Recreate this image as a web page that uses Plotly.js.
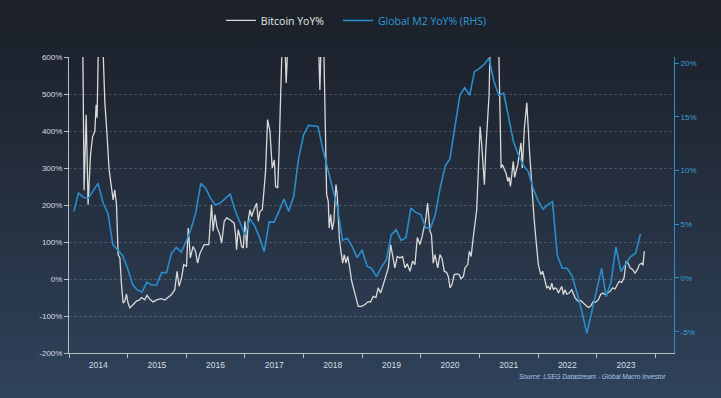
<!DOCTYPE html>
<html><head><meta charset="utf-8">
<script src="https://cdn.plot.ly/plotly-3.0.1.min.js"></script>
<style>
html,body{margin:0;padding:0;background:#1c212b;}
#chart{width:721px;height:398px;background:linear-gradient(to bottom,#1b2029 0%,#222a37 35%,#2b3b50 80%,#2f435b 100%);}
</style>
</head><body><div id="chart"></div>
<script>
// Bitcoin YoY% (time as decimal years)
const btcTime = [
2014.084,2014.160,2014.234,2014.259,2014.294,2014.328,2014.369,2014.403,2014.442,2014.464,
2014.481,2014.502,2014.527,2014.567,2014.613,2014.652,2014.686,2014.727,2014.754,2014.783,
2014.812,2014.840,2014.869,2014.898,2014.925,2014.954,2014.983,2015.010,2015.039,2015.096,
2015.154,2015.193,2015.239,2015.295,2015.334,2015.381,2015.437,2015.505,2015.580,2015.637,
2015.693,2015.751,2015.807,2015.846,2015.881,2015.922,2015.961,2016.007,2016.038,2016.072,
2016.119,2016.160,2016.195,2016.234,2016.307,2016.387,2016.433,2016.461,2016.490,2016.529,
2016.575,2016.604,2016.648,2016.689,2016.746,2016.819,2016.843,2016.860,2016.887,2016.916,
2016.945,2016.973,2017.002,2017.031,2017.058,2017.087,2017.116,2017.143,2017.201,2017.229,
2017.258,2017.297,2017.331,2017.355,2017.389,2017.428,2017.468,2017.502,2017.526,2017.560,
2017.582,2017.616,2017.659,2017.706,2017.735,2017.804,2017.940,2018.077,2018.196,2018.253,
2018.282,2018.311,2018.341,2018.396,2018.423,2018.440,2018.464,2018.491,2018.520,2018.555,
2018.577,2018.611,2018.640,2018.669,2018.696,2018.725,2018.754,2018.782,2018.823,2018.879,
2018.935,2018.993,2019.050,2019.106,2019.143,2019.191,2019.237,2019.276,2019.317,2019.362,
2019.408,2019.447,2019.488,2019.522,2019.561,2019.601,2019.647,2019.693,2019.732,2019.771,
2019.817,2019.863,2019.903,2019.945,2019.988,2020.027,2020.061,2020.085,2020.119,2020.159,
2020.184,2020.215,2020.244,2020.290,2020.329,2020.364,2020.403,2020.440,2020.471,2020.500,
2020.534,2020.573,2020.614,2020.654,2020.688,2020.727,2020.756,2020.802,2020.829,2020.858,
2020.898,2020.927,2020.956,2020.983,2021.012,2021.041,2021.063,2021.085,2021.109,2021.143,
2021.166,2021.188,2021.225,2021.285,2021.328,2021.353,2021.370,2021.392,2021.427,2021.456,
2021.485,2021.507,2021.529,2021.549,2021.580,2021.601,2021.626,2021.655,2021.677,2021.712,
2021.734,2021.768,2021.809,2021.836,2021.857,2021.874,2021.894,2021.933,2021.968,2022.007,
2022.048,2022.082,2022.121,2022.150,2022.177,2022.207,2022.236,2022.263,2022.292,2022.321,
2022.348,2022.377,2022.406,2022.433,2022.463,2022.491,2022.531,2022.577,2022.604,2022.633,
2022.689,2022.730,2022.775,2022.821,2022.860,2022.901,2022.945,2022.986,2023.031,2023.072,
2023.102,2023.145,2023.188,2023.230,2023.276,2023.316,2023.355,2023.389,2023.430,2023.469,
2023.503,2023.538,2023.572,2023.618,2023.657,2023.696,2023.730,2023.771,2023.794,2023.816
];
const btcValues = [
900,760,680,240,444,201,336,385,399,471,
436,700,850,700,480,390,295,246,214,241,
201,66,57,-15,-65,-60,-41,-65,-78,-69,
-59,-58,-50,-56,-44,-55,-62,-56,-53,-57,
-50,-42,-29,21,-20,3,39,34,138,57,
88,75,43,68,93,93,201,129,174,138,
120,97,156,165,160,151,120,79,133,115,
88,84,156,84,160,187,169,183,205,156,
183,187,246,295,431,399,300,322,250,246,
336,680,760,530,720,950,1400,1100,800,660,
511,700,680,228,210,138,174,133,156,255,
228,111,75,43,66,43,61,39,-6,-42,
-74,-74,-69,-61,-62,-47,-50,-24,-38,-15,
7,30,93,66,30,61,57,61,30,41,
21,48,39,112,93,115,147,160,205,129,
120,43,66,30,66,55,21,18,7,-24,
-15,12,14,12,1,7,30,39,75,61,
115,156,187,291,412,363,320,255,345,435,
498,660,850,820,650,453,300,309,295,285,
264,275,250,272,318,275,292,309,336,368,
300,408,476,372,345,300,246,165,102,39,
12,21,-6,-24,-20,-29,-11,-29,-24,-27,
-38,-29,-20,-42,-29,-41,-38,-29,-40,-51,
-61,-58,-65,-71,-77,-73,-61,-63,-56,-41,
-38,-42,-38,-34,-24,-27,-15,-6,-9,3,
48,43,30,25,16,25,39,43,37,75
];
// Global M2 YoY% (monthly, Feb 2014 - Oct 2023)
const m2Start = [2014, 2]; // year, month
const m2Values = [
6.2,7.9,7.5,7.4,8.1,8.8,7.0,6.0,3.1,2.6,
2.1,0.9,-0.6,-1.1,-1.3,-0.4,-0.65,-0.65,0.5,0.5,
2.3,2.85,2.4,3.4,4.6,6.1,8.8,8.35,7.4,6.8,
7.0,7.4,7.8,6.3,5.1,4.0,5.5,4.9,3.8,2.45,
5.2,5.2,6.2,7.35,6.2,7.6,11.1,13.3,14.2,14.15,
14.1,12.0,10.2,8.4,6.5,3.5,3.7,2.9,1.9,2.6,
1.1,0.9,0.12,1.0,1.7,4.0,4.5,3.5,3.75,6.5,
6.1,5.9,4.7,4.6,5.9,8.35,10.4,11.1,13.9,17.0,
17.7,17.0,19.2,19.5,19.9,20.45,18.3,17.0,17.2,14.9,
12.7,11.45,10.5,9.9,8.35,7.2,6.4,6.8,7.1,2.1,
0.9,0.9,0.2,-1.4,-3.1,-5.15,-3.1,-1.1,0.9,-1.74,
-0.35,2.9,0.6,1.3,2.0,2.3,4.1
];
// Axis tick labels
const leftTickVals = [-200,-100,0,100,200,300,400,500,600];
const leftTickText = ['-200%','-100%','0%','100%','200%','300%','400%','500%','600%'];
const rightTickVals = [-5,0,5,10,15,20];
const rightTickText = ['-5%','0%','5%','10%','15%','20%'];

function decYearToDate(t){
  const y = Math.floor(t);
  const s = Date.UTC(y,0,1), e = Date.UTC(y+1,0,1);
  return new Date(s + (t - y)*(e - s)).toISOString().slice(0,10);
}
function monthDate(start, i){
  const tot = start[0]*12 + (start[1]-1) + i;
  const y = Math.floor(tot/12), m = tot%12 + 1;
  return y + '-' + String(m).padStart(2,'0') + '-01';
}
const btcDates = btcTime.map(decYearToDate);
const m2Dates = m2Values.map((_, i) => monthDate(m2Start, i));

const axisGrey = '#b9bfc8';
const blue = '#2a8dcc';

const traces = [
  {x: btcDates, y: btcValues, type: 'scatter', mode: 'lines', name: 'Bitcoin YoY%',
   line: {color: '#d9d9d9', width: 1.3}, yaxis: 'y', legend: 'legend'},
  {x: m2Dates, y: m2Values, type: 'scatter', mode: 'lines',
   name: '<span style="color:#2f9ad8">Global M2 YoY% (RHS)</span>',
   line: {color: blue, width: 1.6}, yaxis: 'y2', legend: 'legend2'}
];

const legendFont = {family: 'Open Sans, sans-serif', size: 10.5, color: '#e8e8e8'};

const layout = {
  width: 721, height: 398,
  paper_bgcolor: 'rgba(0,0,0,0)', plot_bgcolor: 'rgba(0,0,0,0)',
  margin: {l: 69, r: 47, t: 57, b: 45},
  font: {family: 'Liberation Sans, Arial, sans-serif', size: 8, color: '#d3d7dd'},
  showlegend: true,
  legend: {orientation: 'h', x: 0.251, xanchor: 'left', xref: 'paper',
           y: 0.985, yref: 'container', yanchor: 'top',
           font: legendFont, bgcolor: 'rgba(0,0,0,0)'},
  legend2: {orientation: 'h', x: 0.4446, xanchor: 'left', xref: 'paper',
           y: 0.985, yref: 'container', yanchor: 'top',
           font: legendFont, bgcolor: 'rgba(0,0,0,0)'},
  xaxis: {type: 'date', range: ['2014-01-01', '2024-04-27'], dtick: 'M12', tick0: '2014-01-01',
          tickformat: '%Y', ticklabelmode: 'period', ticks: 'outside', ticklen: 4,
          tickcolor: axisGrey, showline: true, linecolor: axisGrey, linewidth: 1,
          showgrid: false, zeroline: false, tickfont: {size: 8.5, color: '#d8dce2'}},
  yaxis: {range: [-200, 600], tickmode: 'array', tickvals: leftTickVals, ticktext: leftTickText,
          ticks: 'outside', ticklen: 4,
          tickcolor: axisGrey, showline: true, linecolor: axisGrey, linewidth: 1,
          showgrid: true, gridcolor: 'rgba(200,206,216,0.22)', griddash: '3px,2px',
          zeroline: false, tickfont: {size: 8, color: '#d8dce2'}},
  yaxis2: {overlaying: 'y', side: 'right', range: [-6.98, 20.56],
           tickmode: 'array', tickvals: rightTickVals, ticktext: rightTickText,
           ticks: 'outside', ticklen: 4,
           tickcolor: blue, showline: true, linecolor: blue, linewidth: 1,
           showgrid: false, zeroline: false, tickfont: {size: 8, color: '#3a9fdc'}},
  annotations: [{text: '<i>Source: LSEG Datastream - Global Macro Investor</i>',
                 xref: 'paper', yref: 'paper', x: 0.99, y: -0.081, xanchor: 'right', yanchor: 'middle',
                 showarrow: false, font: {size: 6.5, color: '#a8c9ec'}}]
};

Plotly.newPlot('chart', traces, layout, {displayModeBar: false, staticPlot: true});
</script></body></html>
